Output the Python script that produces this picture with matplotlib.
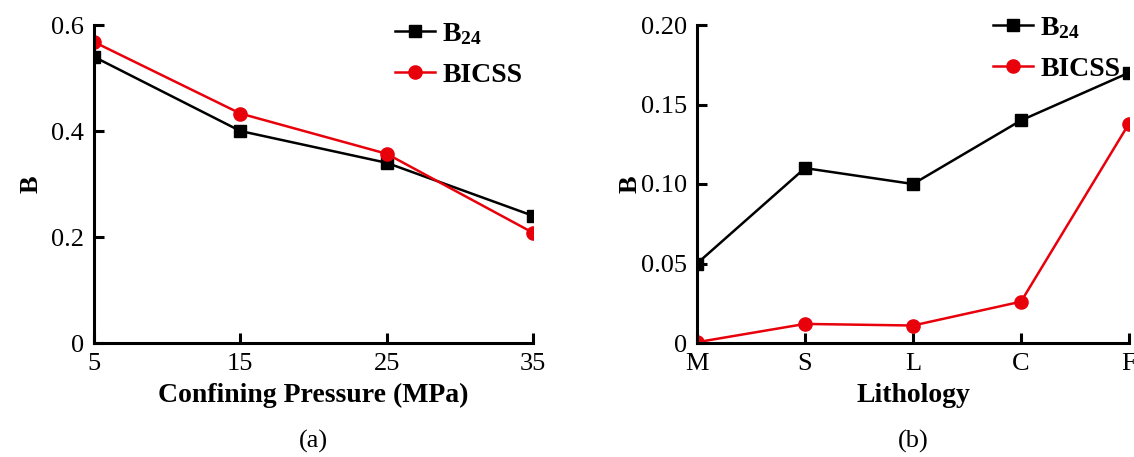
import numpy as np
import matplotlib
matplotlib.use("Agg")
import matplotlib.pyplot as plt

plt.rcParams['font.family'] = ['Liberation Serif', 'DejaVu Serif']
plt.rcParams['mathtext.fontset'] = 'custom'
plt.rcParams['mathtext.rm'] = 'Liberation Serif:bold'
plt.rcParams['mathtext.bf'] = 'Liberation Serif:bold'

## panel (a) data
pressure = [5, 15, 25, 35]
b24_a = [0.54, 0.40, 0.34, 0.24]
bicss_a = [0.568, 0.433, 0.357, 0.208]

## panel (b) data
lithology = ['M', 'S', 'L', 'C', 'F']
b24_b = [0.05, 0.11, 0.10, 0.14, 0.17]
bicss_b = [0.0005, 0.012, 0.011, 0.026, 0.138]

RED = '#e8000b'
W, H = 1134, 457


def style_axes(ax):
    for s in ['top', 'right']:
        ax.spines[s].set_visible(False)
    for s in ['left', 'bottom']:
        ax.spines[s].set_linewidth(2.2)
    ax.tick_params(direction='in', width=2.2, length=7, labelsize=19, pad=7)


def add_legend(ax, x0, y0):
    ax.legend(loc='upper left', bbox_to_anchor=(x0 / W, 1 - y0 / H),
              bbox_transform=ax.figure.transFigure, frameon=False,
              prop={'size': 20, 'weight': 'bold'}, handlelength=1.45,
              handletextpad=0.25, labelspacing=0.55, borderpad=0, borderaxespad=0)


fig = plt.figure(figsize=(W / 100, H / 100), dpi=100)
ax1 = fig.add_axes([94 / W, 1 - 343 / H, 439 / W, 318 / H])
ax2 = fig.add_axes([697 / W, 1 - 343 / H, 432 / W, 318 / H])

## (a)
ax1.plot(pressure, b24_a, '-s', color='black', lw=1.8, ms=8, label=r'$\mathrm{B_{24}}$')
ax1.plot(pressure, bicss_a, '-o', color=RED, lw=1.8, ms=9.5, label='BICSS')
ax1.set_xlim(5, 35)
ax1.set_ylim(0, 0.6)
ax1.set_xticks(pressure)
ax1.set_yticks([0, 0.2, 0.4, 0.6])
ax1.set_yticklabels(['0', '0.2', '0.4', '0.6'])
style_axes(ax1)
ax1.set_xlabel('Confining Pressure (MPa)', fontsize=20, fontweight='bold', labelpad=6)
ax1.set_ylabel('B', fontsize=19, fontweight='bold', labelpad=6)
add_legend(ax1, 395, 21)
ax1.text(0.5, -0.31, '(a)', transform=ax1.transAxes, ha='center', va='center', fontsize=19)

## (b)
xb = np.arange(len(lithology))
ax2.plot(xb, b24_b, '-s', color='black', lw=1.8, ms=8, label=r'$\mathrm{B_{24}}$')
ax2.plot(xb, bicss_b, '-o', color=RED, lw=1.8, ms=9.5, label='BICSS')
ax2.set_xlim(0, 4)
ax2.set_ylim(0, 0.2)
ax2.set_xticks(xb)
ax2.set_xticklabels(lithology)
ax2.set_yticks([0, 0.05, 0.10, 0.15, 0.20])
ax2.set_yticklabels(['0', '0.05', '0.10', '0.15', '0.20'])
style_axes(ax2)
ax2.set_xlabel('Lithology', fontsize=20, fontweight='bold', labelpad=6)
ax2.set_ylabel('B', fontsize=19, fontweight='bold', labelpad=0)
add_legend(ax2, 993, 15)
ax2.text(0.5, -0.31, '(b)', transform=ax2.transAxes, ha='center', va='center', fontsize=19)

fig.savefig('out.png', dpi=100)
